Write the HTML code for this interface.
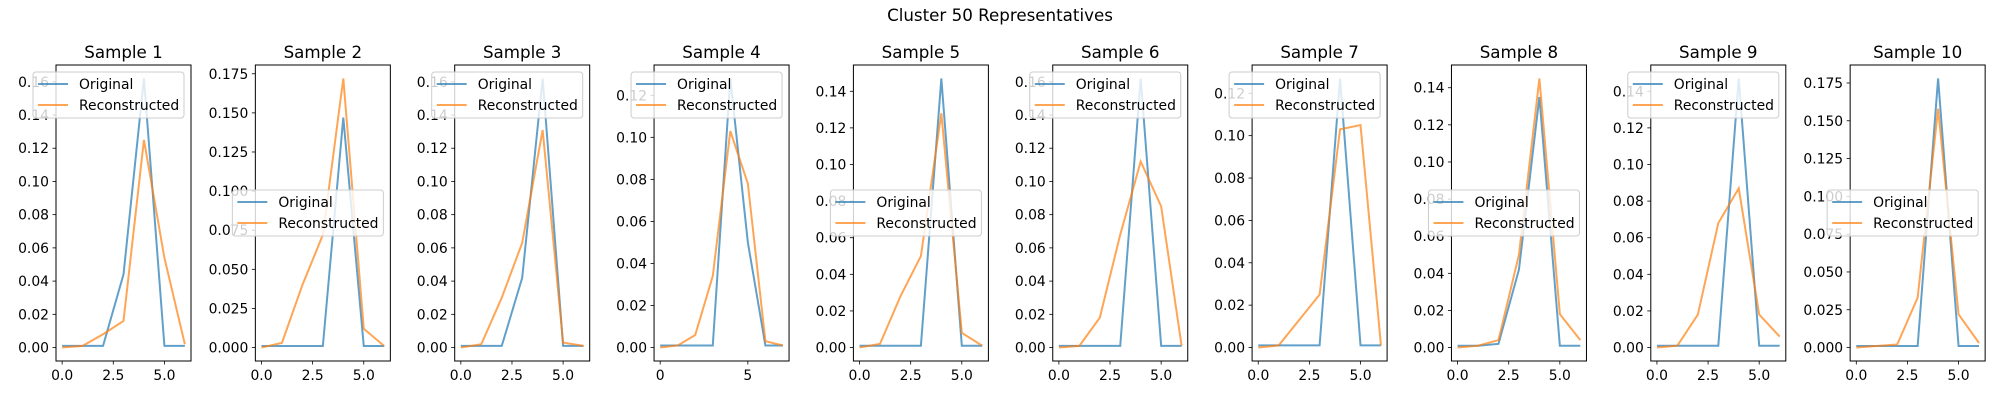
<!DOCTYPE html>
<html><head><meta charset="utf-8"><style>
html,body{margin:0;padding:0;background:#fff;}
svg text{font-family:"DejaVu Sans","Liberation Sans",sans-serif;fill:#000;}
</style></head><body>
<svg id="fig" width="2000" height="400" xmlns="http://www.w3.org/2000/svg">
<text x="1000" y="21" font-size="16.7" text-anchor="middle">Cluster 50 Representatives</text>
</svg>
<script>
const original = [
 [0.001,0.001,0.001,0.044,0.162,0.001,0.001],
 [0.001,0.001,0.001,0.001,0.147,0.001,0.001],
 [0.001,0.001,0.001,0.042,0.162,0.001,0.001],
 [0.001,0.001,0.001,0.001,0.128,0.050,0.001,0.001],
 [0.001,0.001,0.001,0.001,0.147,0.001,0.001],
 [0.001,0.001,0.001,0.001,0.162,0.001,0.001],
 [0.001,0.001,0.001,0.001,0.127,0.001,0.001],
 [0.001,0.001,0.002,0.042,0.135,0.001,0.001],
 [0.001,0.001,0.001,0.001,0.147,0.001,0.001],
 [0.001,0.001,0.001,0.001,0.178,0.001,0.001]
];
const reconstructed = [
 [0.000,0.001,0.008,0.016,0.125,0.054,0.002],
 [0.000,0.003,0.040,0.072,0.172,0.012,0.001],
 [0.000,0.002,0.030,0.063,0.131,0.003,0.001],
 [0.000,0.001,0.006,0.034,0.103,0.078,0.003,0.001],
 [0.000,0.002,0.028,0.050,0.128,0.008,0.001],
 [0.000,0.001,0.018,0.068,0.112,0.085,0.001],
 [0.000,0.001,0.013,0.025,0.103,0.105,0.001],
 [0.000,0.001,0.004,0.050,0.145,0.018,0.004],
 [0.000,0.001,0.018,0.068,0.087,0.018,0.006],
 [0.000,0.001,0.002,0.033,0.158,0.022,0.003]
];
const titles = ["Sample 1","Sample 2","Sample 3","Sample 4","Sample 5","Sample 6","Sample 7","Sample 8","Sample 9","Sample 10"];
const legendCenter = [false,true,false,false,true,false,false,true,false,true];

const NS="http://www.w3.org/2000/svg";
const svg=document.getElementById('fig');
function mk(tag,attrs,parent){const e=document.createElementNS(NS,tag);for(const k in attrs)e.setAttribute(k,attrs[k]);(parent||svg).appendChild(e);return e;}
function niceTicks(lo,hi,nbins){
  const raw=(hi-lo)/nbins;const base=Math.pow(10,Math.floor(Math.log10(raw)));
  const steps=[1,2,2.5,5,10];
  let st=10*base;
  for(const s of steps){if(s*base>=raw-1e-12){st=s*base;break;}}
  const t=[];for(let v=Math.ceil(lo/st-1e-9)*st;v<=hi+1e-12;v+=st)t.push(Math.round(v/st)*st);
  return {t,st};
}
function decimals(st){for(let d=0;d<6;d++){if(Math.abs(st*Math.pow(10,d)-Math.round(st*Math.pow(10,d)))<1e-9)return d;}return 6;}
const AX0=56,AXW=135,AXSP=199.35,AXT=65,AXB=361;
for(let i=0;i<10;i++){
  const L=AX0+i*AXSP,R=L+AXW;
  const g=mk('g',{});
  
  
  const n=Math.max(original[i].length,reconstructed[i].length);
  const all=original[i].concat(reconstructed[i]);
  const mn=Math.min(...all),mx=Math.max(...all),m=(mx-mn)*0.05;
  const ylo=mn-m,yhi=mx+m;
  const xm=(n-1)*0.05,xlo=-xm,xhi=n-1+xm;
  const sx=v=>L+(v-xlo)/(xhi-xlo)*AXW;
  const sy=v=>AXB-(v-ylo)/(yhi-ylo)*(AXB-AXT);
  const Y=niceTicks(ylo,yhi,9);
  const ydec=decimals(Y.st);
  Y.t.forEach(v=>{const y=sy(v);
    const tk=mk('line',{x1:L-3.5,x2:L,y1:y,y2:y,stroke:'#000','stroke-width':0.8},g);
    
    
    const tx=mk('text',{x:L-7,y:y+5,'font-size':13.9,'text-anchor':'end'},g);
    
    
    tx.textContent=v.toFixed(ydec);});
  const X=niceTicks(xlo,xhi,3);
  const xdec=decimals(X.st)===0?0:1;
  X.t.forEach(v=>{const x=sx(v);
    const tk=mk('line',{x1:x,x2:x,y1:AXB,y2:AXB+3.5,stroke:'#000','stroke-width':0.8},g);
    
    
    const tx=mk('text',{x:x,y:AXB+19,'font-size':13.9,'text-anchor':'middle'},g);
    
    
    tx.textContent=v.toFixed(xdec);});
  const pts=a=>a.map((v,k)=>sx(k).toFixed(2)+','+sy(v).toFixed(2)).join(' ');
  const lo=mk('polyline',{points:pts(original[i]),fill:'none',stroke:'#1f77b4','stroke-width':2,'stroke-opacity':0.7},g);
  
  
  const lr=mk('polyline',{points:pts(reconstructed[i]),fill:'none',stroke:'#ff7f0e','stroke-width':2,'stroke-opacity':0.7},g);
  
  
  const fr=mk('rect',{x:L,y:AXT,width:AXW,height:AXB-AXT,fill:'none',stroke:'#000','stroke-width':1},g);
  
  
  const ti=mk('text',{x:L+AXW/2,y:AXT-7,'font-size':16.7,'text-anchor':'middle'},g);
  
  
  ti.textContent=titles[i];
  const lw=151,lh=46,lx=R-7-lw,ly=legendCenter[i]?(AXT+AXB)/2-lh/2:AXT+7;
  const lg=mk('g',{},g);
  
  
  mk('rect',{x:lx,y:ly,width:lw,height:lh,rx:3,fill:'#fff','fill-opacity':0.8,stroke:'#ccc','stroke-width':1},lg);
  [['Original','#1f77b4'],['Reconstructed','#ff7f0e']].forEach((e,k)=>{
    const yy=ly+12+k*21;
    const it=mk('g',{},lg);
    
    
    mk('line',{x1:lx+5,x2:lx+35,y1:yy,y2:yy,stroke:e[1],'stroke-width':2,'stroke-opacity':0.7},it);
    const tx=mk('text',{x:lx+46,y:yy+5,'font-size':13.9},it);
    tx.textContent=e[0];
  });
}
</script>
</body></html>
